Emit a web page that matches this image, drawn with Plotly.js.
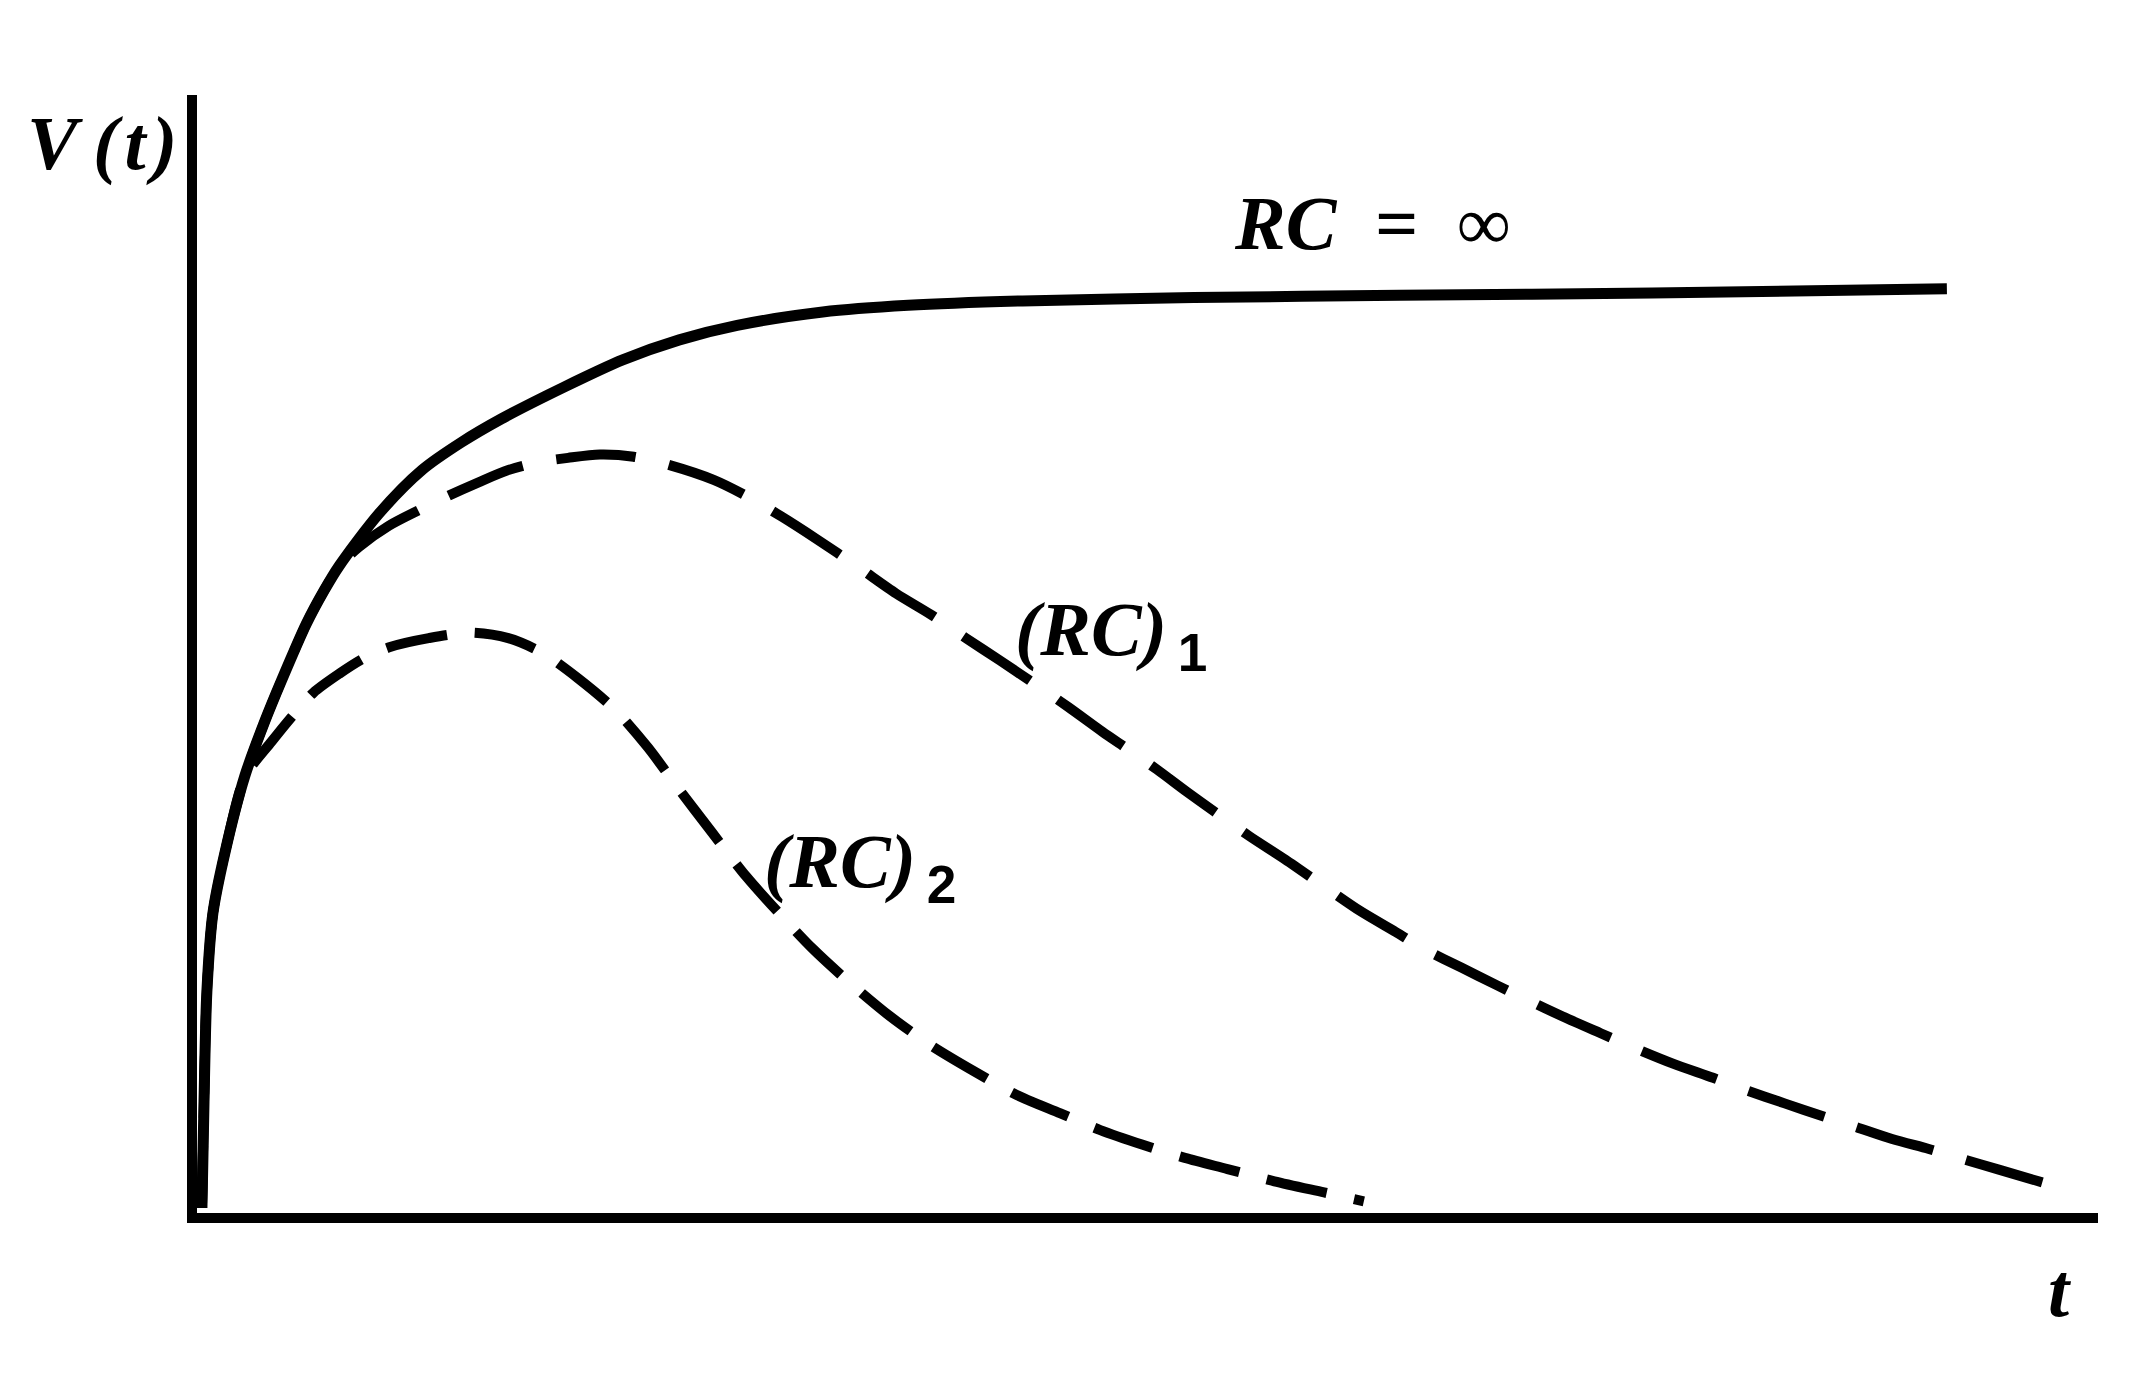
<!DOCTYPE html>
<html>
<head>
<meta charset="utf-8">
<script src="https://cdn.plot.ly/plotly-3.0.1.min.js"></script>
<style>
  html, body { margin: 0; padding: 0; background: #ffffff; }
  #chart { width: 2152px; height: 1378px; }
</style>
</head>
<body>
<div id="chart"></div>
<script>
// Time axis (arbitrary units) and voltage V(t) (arbitrary units)
var tSolid = [0, 0.011, 0.026, 0.058, 0.121, 0.226, 0.331, 0.420, 0.551, 0.645, 0.724, 0.934, 1.160, 1.369, 1.579, 1.915, 2.219, 2.518, 2.823, 3.274, 3.725, 4.328, 5.231, 6.317, 7.650, 9.203];
var vSolid = [0, 0.096, 0.194, 0.265, 0.319, 0.388, 0.437, 0.474, 0.525, 0.555, 0.577, 0.624, 0.663, 0.688, 0.709, 0.738, 0.762, 0.780, 0.793, 0.805, 0.811, 0.815, 0.818, 0.820, 0.822, 0.826];

var tRC1 = [0, 0.011, 0.026, 0.058, 0.121, 0.226, 0.331, 0.420, 0.551, 0.645, 0.724, 0.829, 0.986, 1.144, 1.301, 1.459, 1.616, 1.773, 1.931, 2.099, 2.277, 2.455, 2.702, 2.880, 3.059, 3.242, 3.452, 3.662, 3.846, 4.029, 4.208, 4.391, 4.570, 4.748, 4.885, 5.037, 5.194, 5.341, 5.525, 5.714, 5.918, 6.107, 6.296, 6.453, 6.642, 6.831, 6.978, 7.177, 7.377, 7.539, 7.755, 7.970, 8.143, 8.347, 8.557, 8.720, 8.914, 9.108, 9.266, 9.486, 9.706];
var vRC1 = [0, 0.096, 0.194, 0.265, 0.319, 0.388, 0.437, 0.474, 0.525, 0.555, 0.577, 0.594, 0.613, 0.627, 0.640, 0.652, 0.663, 0.670, 0.674, 0.677, 0.675, 0.668, 0.654, 0.639, 0.621, 0.601, 0.577, 0.552, 0.533, 0.512, 0.492, 0.471, 0.450, 0.428, 0.412, 0.394, 0.374, 0.356, 0.334, 0.313, 0.289, 0.267, 0.248, 0.232, 0.216, 0.200, 0.188, 0.172, 0.157, 0.145, 0.130, 0.117, 0.106, 0.094, 0.082, 0.073, 0.062, 0.053, 0.045, 0.034, 0.023];

var tRC2 = [0, 0.011, 0.026, 0.058, 0.121, 0.226, 0.367, 0.477, 0.588, 0.724, 0.855, 0.992, 1.196, 1.417, 1.616, 1.794, 1.983, 2.177, 2.351, 2.508, 2.692, 2.870, 3.043, 3.221, 3.426, 3.631, 3.846, 4.071, 4.292, 4.528, 4.738, 4.958, 5.184, 5.409, 5.656, 5.918, 6.128];
var vRC2 = [0, 0.096, 0.194, 0.265, 0.319, 0.387, 0.419, 0.442, 0.463, 0.480, 0.494, 0.504, 0.512, 0.517, 0.512, 0.499, 0.476, 0.448, 0.414, 0.378, 0.337, 0.298, 0.265, 0.233, 0.201, 0.172, 0.146, 0.123, 0.102, 0.085, 0.070, 0.057, 0.045, 0.035, 0.024, 0.014, 0.006];

// Text labels
var yLabel = 'V\u2009(\u200At\u200A)';
var xLabel = 't';
var labelInf = 'RC  =  \u221E';
var labelRC1 = '(RC)<sub>\u2009<span style="font-family:Liberation Sans;font-style:normal">1</span></sub>';
var labelRC2 = '(RC)<sub>\u2009<span style="font-family:Liberation Sans;font-style:normal">2</span></sub>';

var ink = '#000000';
var serifFont = { family: 'Liberation Serif, Times New Roman, serif', size: 76, color: ink, weight: 'bold', style: 'italic' };

var traces = [
  { x: tSolid, y: vSolid, mode: 'lines', line: { color: ink, width: 11, shape: 'spline', smoothing: 0.8 }, hoverinfo: 'skip' },
  { x: tRC1, y: vRC1, mode: 'lines', line: { color: ink, width: 10, dash: '80px,34px', shape: 'spline', smoothing: 0.8 }, hoverinfo: 'skip' },
  { x: tRC2, y: vRC2, mode: 'lines', line: { color: ink, width: 10, dash: '62px,28px', shape: 'spline', smoothing: 0.8 }, hoverinfo: 'skip' }
];

function annData(text, x, y) {
  return { text: text, x: x, y: y, xref: 'x', yref: 'y', xanchor: 'left', yanchor: 'middle', showarrow: false, font: serifFont };
}
function annPaper(text, x, y) {
  return { text: text, x: x, y: y, xref: 'paper', yref: 'paper', xanchor: 'left', yanchor: 'middle', showarrow: false, font: serifFont };
}

var layout = {
  width: 2152, height: 1378,
  paper_bgcolor: '#ffffff', plot_bgcolor: '#ffffff',
  showlegend: false,
  margin: { l: 197, r: 54, t: 95, b: 165, pad: 0 },
  xaxis: { range: [-0.026, 10.0], showline: true, linecolor: ink, linewidth: 10, showgrid: false, zeroline: false, showticklabels: false, ticks: '', fixedrange: true },
  yaxis: { range: [-0.0045, 1.0], showline: true, linecolor: ink, linewidth: 10, showgrid: false, zeroline: false, showticklabels: false, ticks: '', fixedrange: true },
  annotations: [
    annPaper(yLabel, -0.0905, 0.957),
    annPaper(xLabel, 0.9727, -0.0688),
    annData(labelInf, 5.435, 0.885),
    annData(labelRC1, 4.28, 0.515),
    annData(labelRC2, 2.953, 0.306)
  ]
};

Plotly.newPlot('chart', traces, layout, { displayModeBar: false, staticPlot: true });
</script>
</body>
</html>
